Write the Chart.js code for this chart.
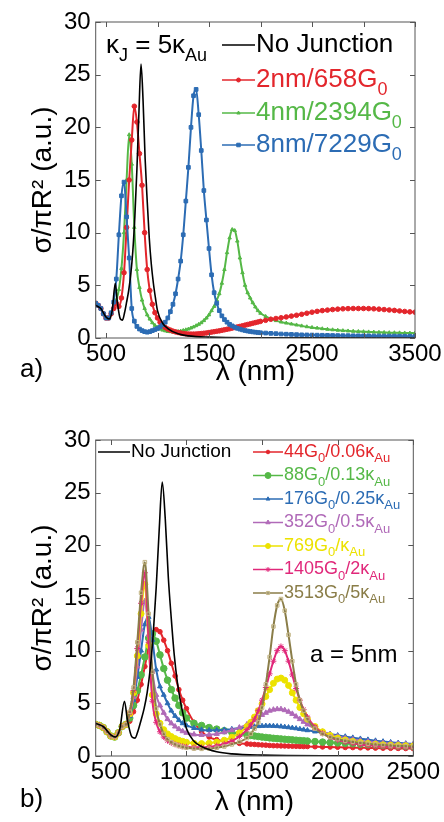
<!DOCTYPE html>
<html>
<head>
<meta charset="utf-8">
<title>Scattering cross section spectra</title>
<script src="https://cdn.jsdelivr.net/npm/chart.js@4.4.1/dist/chart.umd.min.js"></script>
<style>
	body { margin: 0; background: #fff; }
	canvas { position: absolute; left: 0; }
	#chartA { top: 0; }
	#chartB { top: 400px; }
</style>
</head>
<body>
<canvas id="chartA" width="444" height="400"></canvas>
<canvas id="chartB" width="444" height="422"></canvas>
<script>
// ---------- panel a) kappa_J = 5 kappa_Au, junction width varies
var lamA = [400,425,450,475,500,525,550,575,600,625,650,675,700,725,750,775,800,825,850,875,900,925,950,975,1000,
	1025,1050,1075,1100,1125,1150,1175,1200,1225,1250,1275,1300,1325,1350,1375,1400,1425,1450,1475,1500,1525,1550,1575,1600,1625,
	1650,1675,1700,1725,1750,1775,1800,1825,1850,1875,1900,1925,1950,1975,2000,
	2050,2100,2150,2200,2250,2300,2350,2400,2450,2500,2550,2600,2650,2700,2750,2800,2850,2900,2950,3000,
	3050,3100,3150,3200,3250,3300,3350,3400,3450,3500];
var a2nm = [3.3,3.1,2.8,2.3,1.9,1.9,2.3,2.8,3.3,3.0,3.8,6.2,10.5,15.0,18.8,22.0,20.5,17.5,14.5,10.0,6.5,4.5,3.2,2.4,1.9,
	1.5,1.2,1.0,0.85,0.75,0.65,0.58,0.52,0.47,0.43,0.4,0.38,0.37,0.37,0.38,0.4,0.42,0.45,0.48,0.52,0.56,0.6,0.64,0.68,0.73,
	0.78,0.83,0.88,0.94,1.0,1.05,1.1,1.16,1.22,1.28,1.34,1.4,1.46,1.52,1.58,
	1.68,1.78,1.85,1.92,2.0,2.08,2.16,2.25,2.35,2.45,2.53,2.6,2.65,2.7,2.74,2.77,2.79,2.8,2.8,2.8,
	2.79,2.77,2.74,2.7,2.66,2.62,2.57,2.52,2.48,2.45];
var a4nm = [3.3,3.1,2.8,2.3,1.9,1.9,2.3,2.9,3.6,4.6,6.6,10.0,15.0,19.3,16.5,10.5,6.5,4.8,3.6,2.8,2.2,1.8,1.45,1.2,1.0,
	0.85,0.75,0.68,0.62,0.6,0.58,0.6,0.62,0.66,0.72,0.78,0.85,0.95,1.05,1.17,1.3,1.45,1.65,1.9,2.2,2.6,3.0,3.6,4.2,5.2,
	6.5,8.1,9.5,10.3,10.2,9.2,7.6,6.2,5.0,4.3,3.8,3.35,2.95,2.6,2.35,
	2.05,1.82,1.65,1.52,1.42,1.33,1.24,1.15,1.07,1.0,0.94,0.88,0.83,0.78,0.74,0.7,0.67,0.64,0.62,0.6,
	0.58,0.56,0.54,0.53,0.51,0.5,0.49,0.48,0.47,0.46];
var a8nm = [3.3,3.1,2.8,2.3,1.9,1.9,2.4,3.4,5.6,9.8,13.5,14.8,11.5,7.6,2.8,1.6,1.1,0.85,0.7,0.6,0.55,0.6,0.7,0.8,0.9,
	1.05,1.25,1.5,1.9,2.5,3.2,4.2,5.6,7.3,9.8,13.0,16.2,20.0,23.0,23.6,21.2,17.8,14.0,11.2,8.5,6.0,4.3,3.3,2.6,2.1,
	1.75,1.5,1.3,1.15,1.02,0.92,0.84,0.77,0.71,0.66,0.62,0.58,0.55,0.52,0.5,
	0.47,0.44,0.41,0.38,0.36,0.34,0.32,0.3,0.29,0.28,0.27,0.26,0.25,0.24,0.23,0.22,0.22,0.21,0.21,0.2,
	0.2,0.19,0.19,0.18,0.18,0.18,0.17,0.17,0.17,0.16];

// "No Junction" reference (same curve in both panels)
var lamNoJ = [400,450,500,530,560,590,610,640,660,680,700,720,740,760,780,800,820,840,860,880,900,920,940,960,980,1000,1050,1100,1200,1300,1500,2000,2500,3500];
var noJunction = [3.1,2.8,2.0,1.8,2.6,5.2,3.4,1.8,1.7,2.4,3.4,4.5,6.0,8.2,11.5,16.0,21.5,26.0,22.5,17.0,13.0,9.5,7.0,5.2,3.8,2.6,1.4,0.9,0.4,0.2,0.08,0.02,0.01,0];

var xTicksA = [500,1000,1500,2000,2500,3000,3500];
var xLabelsA = ['500','','1500','','2500','','3500'];

// ---------- panel b) a = 5nm, junction conductance varies
var lamB = [400,425,450,475,500,525,550,575,600,625,650,675,700,725,750,775,800,825,850,875,900,925,950,975,1000,
	1050,1100,1150,1200,1250,1300,1350,1400,
	1425,1450,1475,1500,1525,1550,1575,1600,1625,1650,1675,1700,1725,1750,1775,1800,
	1850,1900,1950,2000,2050,2100,2150,2200,2250,2300,2350,2400,2450,2500];
var b44 = [3.0,2.9,2.7,2.3,1.9,1.8,2.2,2.8,3.0,3.3,4.2,5.3,6.8,8.5,10.3,11.5,12.0,11.8,11.0,10.0,8.8,7.6,6.3,5.3,4.5,
	3.2,2.3,1.8,1.55,1.4,1.3,1.2,1.15,
	1.12,1.1,1.07,1.05,1.03,1.0,0.98,0.97,0.96,0.95,0.94,0.93,0.92,0.91,0.9,0.9,
	0.88,0.86,0.85,0.83,0.81,0.8,0.78,0.77,0.75,0.74,0.73,0.72,0.71,0.7];
var b88 = [3.0,2.9,2.7,2.3,1.9,1.8,2.2,2.8,3.0,3.6,4.8,6.2,7.7,9.4,11.2,11.6,10.9,9.6,8.3,7.2,6.3,5.5,4.8,4.1,3.6,
	3.1,2.9,2.7,2.55,2.4,2.25,2.1,2.0,
	1.95,1.9,1.85,1.8,1.76,1.72,1.68,1.65,1.62,1.59,1.56,1.53,1.5,1.47,1.45,1.42,
	1.37,1.32,1.28,1.24,1.2,1.16,1.12,1.08,1.04,1.0,0.97,0.94,0.91,0.88];
var b176 = [3.0,2.9,2.7,2.3,1.9,1.8,2.2,2.8,3.0,3.8,5.3,7.5,10.0,12.5,13.2,11.0,8.2,6.6,5.8,5.0,4.3,3.8,3.4,3.1,2.9,
	2.65,2.5,2.45,2.45,2.5,2.55,2.65,2.72,
	2.76,2.8,2.83,2.85,2.86,2.86,2.85,2.83,2.8,2.76,2.72,2.67,2.62,2.56,2.5,2.44,
	2.32,2.2,2.08,1.96,1.85,1.74,1.64,1.55,1.46,1.38,1.31,1.25,1.19,1.14];
var b352 = [3.0,2.9,2.7,2.3,1.9,1.8,2.2,2.8,3.0,3.9,5.6,8.5,12.0,14.7,11.5,8.0,5.8,4.8,4.1,3.5,3.1,2.8,2.55,2.35,2.2,
	2.05,2.0,2.02,2.1,2.25,2.45,2.7,3.0,
	3.2,3.4,3.65,3.9,4.1,4.3,4.4,4.45,4.45,4.35,4.2,4.0,3.75,3.5,3.25,3.0,
	2.6,2.3,2.05,1.85,1.7,1.57,1.46,1.37,1.3,1.24,1.19,1.15,1.11,1.08];
var b769 = [3.0,2.9,2.7,2.3,1.9,1.8,2.2,2.8,3.0,4.0,6.0,9.5,13.5,16.3,10.5,5.8,4.0,3.1,2.5,2.1,1.85,1.65,1.5,1.4,1.3,
	1.2,1.18,1.22,1.32,1.5,1.78,2.2,2.8,
	3.2,3.7,4.3,4.95,5.65,6.3,6.9,7.3,7.4,7.2,6.7,6.0,5.3,4.6,4.0,3.5,
	2.8,2.3,1.95,1.7,1.52,1.38,1.27,1.18,1.11,1.06,1.02,0.99,0.97,0.95];
var b1405 = [3.0,2.9,2.7,2.3,1.9,1.8,2.2,2.8,3.0,4.1,6.2,10.2,14.5,17.4,10.8,5.2,3.2,2.3,1.8,1.45,1.25,1.1,1.0,0.92,0.87,
	0.82,0.82,0.87,0.98,1.15,1.42,1.85,2.5,
	2.95,3.5,4.3,5.3,6.5,7.8,9.0,10.0,10.4,10.0,9.0,7.7,6.4,5.3,4.4,3.7,
	2.75,2.15,1.78,1.52,1.34,1.2,1.1,1.02,0.96,0.91,0.87,0.84,0.82,0.8];
var b3513 = [3.0,2.9,2.7,2.3,1.9,1.8,2.2,2.8,3.0,4.2,6.5,10.8,15.5,18.4,13.5,8.0,4.5,3.0,2.1,1.6,1.3,1.1,0.95,0.85,0.78,
	0.7,0.68,0.7,0.78,0.9,1.1,1.35,1.7,
	2.1,2.6,3.2,4.6,6.8,9.4,12.3,14.3,14.9,13.8,11.5,9.0,6.8,5.3,4.3,3.5,
	2.6,2.1,1.8,1.6,1.45,1.35,1.25,1.17,1.1,1.05,1.0,0.96,0.93,0.9];

var xTicksB = [500,1000,1500,2000,2500];
var xLabelsB = ['500','1000','1500','2000','2500'];
var yTicks = [0,5,10,15,20,25,30];

var FONT = '"Liberation Sans", Arial, Helvetica, sans-serif';
var RED = '#e3262c', GREEN = '#55b847', BLUE = '#2c6cb4';

function xy(xs, ys) {
	return xs.map(function(x, i) { return { x: x, y: ys[i] }; });
}

// text with "_" marking a subscript (digits, or a capital + lower case letters)
function richText(ctx, str, x, y, size, color) {
	var parts = str.split('_');
	ctx.fillStyle = color;
	ctx.textAlign = 'left';
	ctx.textBaseline = 'middle';
	ctx.font = size + 'px ' + FONT;
	ctx.fillText(parts[0], x, y);
	x += ctx.measureText(parts[0]).width;
	for (var i = 1; i < parts.length; i++) {
		var m = parts[i].match(/^(\d+|[A-Z][a-z]*)(.*)$/);
		ctx.font = Math.round(size * 0.7) + 'px ' + FONT;
		ctx.fillText(m[1], x, y + size * 0.38);
		x += ctx.measureText(m[1]).width;
		ctx.font = size + 'px ' + FONT;
		ctx.fillText(m[2], x, y);
		x += ctx.measureText(m[2]).width;
	}
}

function figurePlugin(id, legend, notes) {
	return {
		id: id,
		afterDraw: function(chart) {
			var ctx = chart.ctx, area = chart.chartArea;
			var xs = chart.scales.x, ys = chart.scales.y;
			ctx.save();
			// box with inward ticks, matlab style
			ctx.strokeStyle = '#555';
			ctx.lineWidth = 1;
			ctx.strokeRect(area.left, area.top, area.right - area.left, area.bottom - area.top);
			ctx.beginPath();
			xs.ticks.forEach(function(t) {
				var px = Math.round(xs.getPixelForValue(t.value)) + 0.5;
				ctx.moveTo(px, area.bottom); ctx.lineTo(px, area.bottom - 5);
				ctx.moveTo(px, area.top); ctx.lineTo(px, area.top + 5);
			});
			ys.ticks.forEach(function(t) {
				var py = Math.round(ys.getPixelForValue(t.value)) + 0.5;
				ctx.moveTo(area.left, py); ctx.lineTo(area.left + 5, py);
				ctx.moveTo(area.right, py); ctx.lineTo(area.right - 5, py);
			});
			ctx.stroke();
			// legend entries
			legend.forEach(function(row) {
				ctx.strokeStyle = row.color;
				ctx.lineWidth = 1.5;
				ctx.beginPath();
				ctx.moveTo(row.x0, row.y);
				ctx.lineTo(row.x1, row.y);
				ctx.stroke();
				if (row.style) {
					ctx.fillStyle = row.fill || row.color;
					ctx.strokeStyle = row.edge || row.color;
					ctx.lineWidth = 1;
					Chart.helpers.drawPoint(ctx, { pointStyle: row.style, radius: row.r, rotation: 0, borderWidth: 1 }, (row.x0 + row.x1) / 2, row.y);
				}
				richText(ctx, row.text, row.x1 + 1, row.y, row.size, row.textColor || row.color);
			});
			notes.forEach(function(n) {
				richText(ctx, n.text, n.x, n.y, n.size, '#000');
			});
			ctx.restore();
		}
	};
}

function scales(xMin, xMax, xTicks, xLabels, xHeight) {
	return {
		x: {
			type: 'linear', min: xMin, max: xMax,
			afterBuildTicks: function(s) { s.ticks = xTicks.map(function(v) { return { value: v }; }); },
			afterFit: function(s) { s.height = xHeight; s.paddingLeft = 0; s.paddingRight = 0; },
			grid: { display: false, drawTicks: false },
			border: { display: false },
			ticks: {
				autoSkip: false, maxRotation: 0, padding: 2, color: '#000',
				font: { family: FONT, size: 24 },
				callback: function(v) { return xLabels[xTicks.indexOf(v)]; }
			},
			title: { display: true, text: 'λ (nm)', color: '#000', padding: 0, font: { family: FONT, size: 28 } }
		},
		y: {
			min: 0, max: 30,
			afterBuildTicks: function(s) { s.ticks = yTicks.map(function(v) { return { value: v }; }); },
			afterFit: function(s) { s.width = 69.7; s.paddingTop = 0; s.paddingBottom = 0; },
			grid: { display: false, drawTicks: false },
			border: { display: false },
			ticks: { padding: 5, color: '#000', font: { family: FONT, size: 24 } },
			title: { display: true, text: 'σ/πR² (a.u.)', color: '#000', padding: 0, font: { family: FONT, size: 28 } }
		}
	};
}

function series(xs, ys, color, style, r, order, extra) {
	var ds = {
		data: xy(xs, ys), borderColor: color, backgroundColor: color,
		borderWidth: style ? 2 : 1.6, cubicInterpolationMode: 'monotone',
		pointStyle: style || 'circle', pointRadius: style ? r : 0, pointBorderWidth: 1,
		pointBackgroundColor: color, pointBorderColor: color, order: order
	};
	for (var k in extra || {}) ds[k] = extra[k];
	return ds;
}

var legendA = [
	{ text: 'No Junction', color: '#000', x0: 222, x1: 255, y: 45, size: 26 },
	{ text: '2nm/658G_0', color: RED, style: 'circle', r: 2, x0: 222, x1: 255, y: 80, size: 26 },
	{ text: '4nm/2394G_0', color: GREEN, style: 'triangle', r: 2, x0: 222, x1: 255, y: 113, size: 26 },
	{ text: '8nm/7229G_0', color: BLUE, style: 'rect', r: 2.5, x0: 222, x1: 255, y: 145, size: 26 }
];

new Chart(document.getElementById('chartA').getContext('2d'), {
	type: 'line',
	data: {
		datasets: [
			series(lamNoJ, noJunction, '#000', null, 0, 0),
			series(lamA, a2nm, RED, 'circle', 2.3, 2),
			series(lamA, a4nm, GREEN, 'triangle', 2, 3),
			series(lamA, a8nm, BLUE, 'rect', 2.6, 1)
		]
	},
	options: {
		responsive: false, animation: false,
		layout: { padding: { left: 26, right: 29, top: 22, bottom: 11 } },
		plugins: { legend: { display: false }, tooltip: { enabled: false } },
		scales: scales(400, 3500, xTicksA, xLabelsA, 51)
	},
	plugins: [figurePlugin('figA', legendA, [
		{ text: 'κ_J = 5κ_Au', x: 106, y: 46, size: 26 },
		{ text: 'a)', x: 20, y: 370, size: 26 }
	])]
});

var OLIVE = '#8a7d48', MAGENTA = '#e0287a', YELLOW = '#ece200', PURPLE = '#b06ab8';
var rowY = [52, 75.5, 99, 122.5, 146, 169.5, 193];
var legendB = [
	{ text: 'No Junction', color: '#000', x0: 98, x1: 130, y: 52, size: 19 },
	{ text: '44G_0/0.06κ_Au', color: RED, style: 'circle', r: 1.8, x0: 253, x1: 283, y: rowY[0], size: 18 },
	{ text: '88G_0/0.13κ_Au', color: GREEN, style: 'circle', r: 3, x0: 253, x1: 283, y: rowY[1], size: 18 },
	{ text: '176G_0/0.25κ_Au', color: BLUE, style: 'triangle', r: 2.2, x0: 253, x1: 283, y: rowY[2], size: 18 },
	{ text: '352G_0/0.5κ_Au', color: PURPLE, style: 'triangle', r: 2.5, x0: 253, x1: 283, y: rowY[3], size: 18 },
	{ text: '769G_0/κ_Au', color: YELLOW, style: 'circle', r: 2.5, x0: 253, x1: 283, y: rowY[4], size: 18 },
	{ text: '1405G_0/2κ_Au', color: MAGENTA, style: 'star', r: 2.5, x0: 253, x1: 283, y: rowY[5], size: 18 },
	{ text: '3513G_0/5κ_Au', color: OLIVE, style: 'rect', r: 2.2, fill: 'rgba(0,0,0,0)', edge: '#c2b483', x0: 253, x1: 283, y: rowY[6], size: 18 }
];

new Chart(document.getElementById('chartB').getContext('2d'), {
	type: 'line',
	data: {
		datasets: [
			series(lamNoJ, noJunction, '#000', null, 0, 0),
			series(lamB, b44, RED, 'circle', 2.3, 7),
			series(lamB, b88, GREEN, 'circle', 3.3, 6),
			series(lamB, b176, BLUE, 'triangle', 2.8, 5),
			series(lamB, b352, PURPLE, 'triangle', 3, 4),
			series(lamB, b769, YELLOW, 'circle', 3, 3),
			series(lamB, b1405, MAGENTA, 'star', 3, 2),
			series(lamB, b3513, OLIVE, 'rect', 2.5, 1, { pointBackgroundColor: 'rgba(0,0,0,0)', pointBorderColor: '#c2b483' })
		]
	},
	options: {
		responsive: false, animation: false,
		layout: { padding: { left: 26, right: 30.7, top: 40, bottom: 3 } },
		plugins: { legend: { display: false }, tooltip: { enabled: false } },
		scales: scales(400, 2500, xTicksB, xLabelsB, 63)
	},
	plugins: [figurePlugin('figB', legendB, [
		{ text: 'a = 5nm', x: 310, y: 255, size: 24 },
		{ text: 'b)', x: 20, y: 400, size: 26 }
	])]
});
</script>
</body>
</html>
